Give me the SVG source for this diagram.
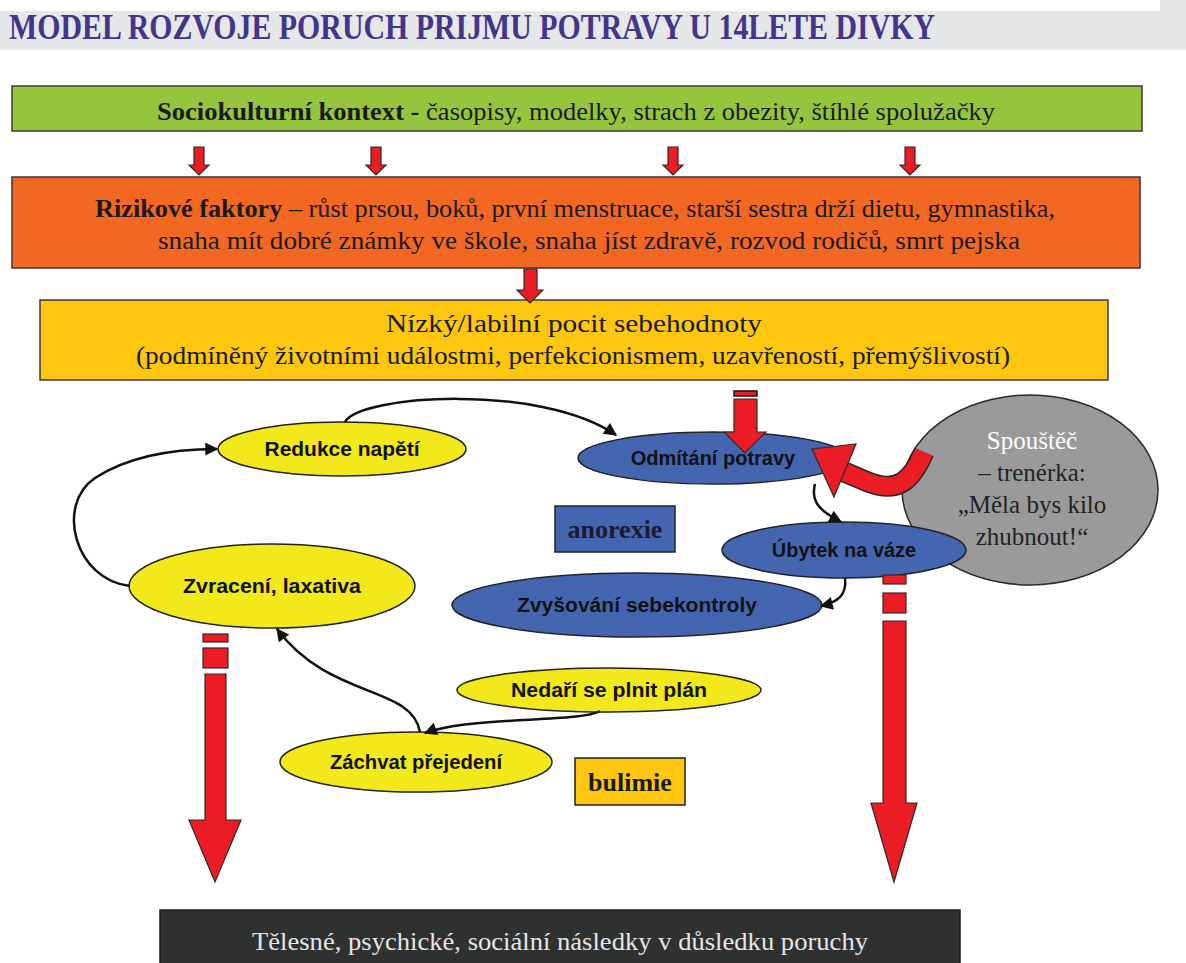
<svg xmlns="http://www.w3.org/2000/svg" width="1186" height="963" viewBox="0 0 1186 963">
<defs>
<style>
.box{stroke:#3a3a3a;stroke-width:1.5}
.serif{font-family:"Liberation Serif","Times New Roman",serif;font-size:26px;fill:#1a1a1a}
.circ{font-family:"Liberation Serif","Times New Roman",serif;font-size:25px;fill:#222;text-anchor:middle}
.b{font-weight:bold}
.lab{font-family:"Liberation Sans",Arial,sans-serif;font-weight:bold;font-size:20px;fill:#111;text-anchor:middle}
.yel{fill:#f2e81a;stroke:#222;stroke-width:1.5}
.blu{fill:#4466b0;stroke:#222;stroke-width:1.5}
.red{fill:#ec1c24;stroke:#2a2a2a;stroke-width:1.2}
.con{fill:none;stroke:#111;stroke-width:2.5}
</style>
<marker id="ah" viewBox="0 0 10 10" refX="9" refY="5" markerWidth="14" markerHeight="13" markerUnits="userSpaceOnUse" orient="auto">
<path d="M0,0 L10,5 L0,10 z" fill="#111"/>
</marker>
</defs>
<rect width="1186" height="963" fill="#ffffff"/>
<!-- title band -->
<rect x="0" y="0" width="1186" height="50" fill="#e6e7e9"/>
<rect x="0" y="0" width="1160" height="11" fill="#ffffff"/>
<text x="9" y="39" font-family="'Liberation Serif', serif" font-weight="bold" font-size="36" fill="#43358a" textLength="926" lengthAdjust="spacingAndGlyphs">MODEL ROZVOJE PORUCH PRIJMU POTRAVY U 14LETE DIVKY</text>

<g id="sociokulturni">
<rect class="box" x="12" y="86" width="1130" height="45" fill="#95c53d"/>
<text class="serif" x="576" y="120" text-anchor="middle" textLength="838" lengthAdjust="spacingAndGlyphs"><tspan class="b">Sociokulturní kontext -</tspan> časopisy, modelky, strach z obezity, štíhlé spolužačky</text>
</g>

<g id="rizikove">
<rect class="box" x="12" y="177" width="1128" height="91" fill="#f26722"/>
<text class="serif" x="575" y="217" text-anchor="middle" textLength="960" lengthAdjust="spacingAndGlyphs"><tspan class="b">Rizikové faktory</tspan> – růst prsou, boků, první menstruace, starší sestra drží dietu, gymnastika,</text>
<text class="serif" x="589" y="249" text-anchor="middle" textLength="862" lengthAdjust="spacingAndGlyphs">snaha mít dobré známky ve škole, snaha jíst zdravě, rozvod rodičů, smrt pejska</text>
</g>

<g id="sebehodnota">
<rect class="box" x="40" y="300" width="1068" height="80" fill="#fcc70e"/>
<text class="serif" x="574" y="332" text-anchor="middle" textLength="376" lengthAdjust="spacingAndGlyphs">Nízký/labilní pocit sebehodnoty</text>
<text class="serif" x="573" y="364" text-anchor="middle" textLength="874" lengthAdjust="spacingAndGlyphs">(podmíněný životními událostmi, perfekcionismem, uzavřeností, přemýšlivostí)</text>
</g>

<g id="spoustec">
<ellipse cx="1030" cy="490" rx="128" ry="95" fill="#9a9a9a" stroke="#2a2a2a" stroke-width="1.5"/>
<text class="circ" x="1032" y="449" style="fill:#ffffff">Spouštěč</text>
<text class="circ" x="1032" y="481">– trenérka:</text>
<text class="circ" x="1032" y="513">„Měla bys kilo</text>
<text class="circ" x="1032" y="545">zhubnout!“</text>
</g>

<g id="odmitani">
<ellipse class="blu" cx="713" cy="458" rx="135" ry="26"/>
<text class="lab" x="713" y="465">Odmítání potravy</text>
</g>

<g id="ubytek">
<ellipse class="blu" cx="844" cy="550" rx="122" ry="28"/>
<text class="lab" x="844" y="557">Úbytek na váze</text>
</g>

<g id="zvysovani">
<ellipse class="blu" cx="637" cy="605" rx="185" ry="32"/>
<text class="lab" x="637" y="612" textLength="240" lengthAdjust="spacingAndGlyphs">Zvyšování sebekontroly</text>
</g>

<g id="anorexie">
<rect x="555" y="506" width="120" height="46" fill="#4466b0" stroke="#222" stroke-width="1.5"/>
<text class="serif b" x="615" y="538" text-anchor="middle" style="fill:#1a1a33;font-size:26px">anorexie</text>
</g>

<g id="redukce">
<ellipse class="yel" cx="342" cy="449" rx="124" ry="27"/>
<text class="lab" x="342" y="456" textLength="155" lengthAdjust="spacingAndGlyphs">Redukce napětí</text>
</g>

<g id="zvraceni">
<ellipse class="yel" cx="272" cy="586" rx="143" ry="42"/>
<text class="lab" x="272" y="593" textLength="178" lengthAdjust="spacingAndGlyphs">Zvracení, laxativa</text>
</g>

<g id="nedari">
<ellipse class="yel" cx="609" cy="690" rx="152" ry="22"/>
<text class="lab" x="609" y="697" textLength="196" lengthAdjust="spacingAndGlyphs">Nedaří se plnit plán</text>
</g>

<g id="zachvat">
<ellipse class="yel" cx="416" cy="762" rx="136" ry="30"/>
<text class="lab" x="416" y="769" textLength="172" lengthAdjust="spacingAndGlyphs">Záchvat přejedení</text>
</g>

<g id="bulimie">
<rect x="575" y="758" width="110" height="47" fill="#fcc70e" stroke="#222" stroke-width="1.5"/>
<text class="serif b" x="630" y="791" text-anchor="middle" style="font-size:26px">bulimie</text>
</g>

<g id="nasledky">
<rect x="160" y="910" width="800" height="60" fill="#2f3131" stroke="#1a1a1a" stroke-width="1.5"/>
<text class="serif" x="560" y="950" text-anchor="middle" textLength="616" lengthAdjust="spacingAndGlyphs" style="fill:#e6e6e6">Tělesné, psychické, sociální následky v důsledku poruchy</text>
</g>

<g id="connectors">
<!-- small red arrows green -> orange -->
<path class="red" d="M194,147 H204 V165 H209 L199,175 L189,165 H194 Z"/>
<path class="red" d="M371,147 H381 V165 H386 L376,175 L366,165 H371 Z"/>
<path class="red" d="M668,147 H678 V165 H683 L673,175 L663,165 H668 Z"/>
<path class="red" d="M905,147 H915 V165 H920 L910,175 L900,165 H905 Z"/>
<!-- orange -> yellow -->
<path class="red" d="M524,269 H537 V290 H543 L530,303 L517,290 H524 Z"/>
<!-- yellow -> odmitani -->
<rect class="red" x="734" y="391" width="23" height="5" style="stroke:#111;stroke-width:1.5"/>
<path class="red" d="M734,399 H757 V432 H766 L745,453 L724,432 H734 Z"/>
<!-- trigger curved red arrow -->
<path d="M924,452 C912,480 898,494 868,482 L842,471" fill="none" stroke="#2a2a2a" stroke-width="21"/>
<path d="M924,452 C912,480 898,494 868,482 L842,471" fill="none" stroke="#ec1c24" stroke-width="18"/>
<path class="red" d="M812,449 L856,444 L834,497 Z"/>
<!-- left big arrow -->
<rect class="red" x="203" y="634" width="25" height="8"/>
<rect class="red" x="203" y="648" width="25" height="20"/>
<path class="red" d="M205,674 H226 V820 H241 L215,882 L189,820 H205 Z"/>
<!-- right big arrow -->
<rect class="red" x="883" y="575" width="23" height="9"/>
<rect class="red" x="883" y="593" width="23" height="20"/>
<path class="red" d="M883,621 H906 V803 H917 L894,882 L871,803 H883 Z"/>
<!-- black curved connectors -->
<path class="con" d="M345,422 C360,395 540,383 616,435" marker-end="url(#ah)"/>
<path class="con" d="M130,586 C75,580 55,505 95,478 C135,452 185,449 217,449" marker-end="url(#ah)"/>
<path class="con" d="M815,484 C810,503 822,512 841,522" marker-end="url(#ah)"/>
<path class="con" d="M845,578 C847,595 838,602 821,606" marker-end="url(#ah)"/>
<path class="con" d="M600,711 C580,723 470,716 425,733" marker-end="url(#ah)"/>
<path class="con" d="M420,732 C412,685 330,700 277,629" marker-end="url(#ah)"/>
</g>
</svg>
